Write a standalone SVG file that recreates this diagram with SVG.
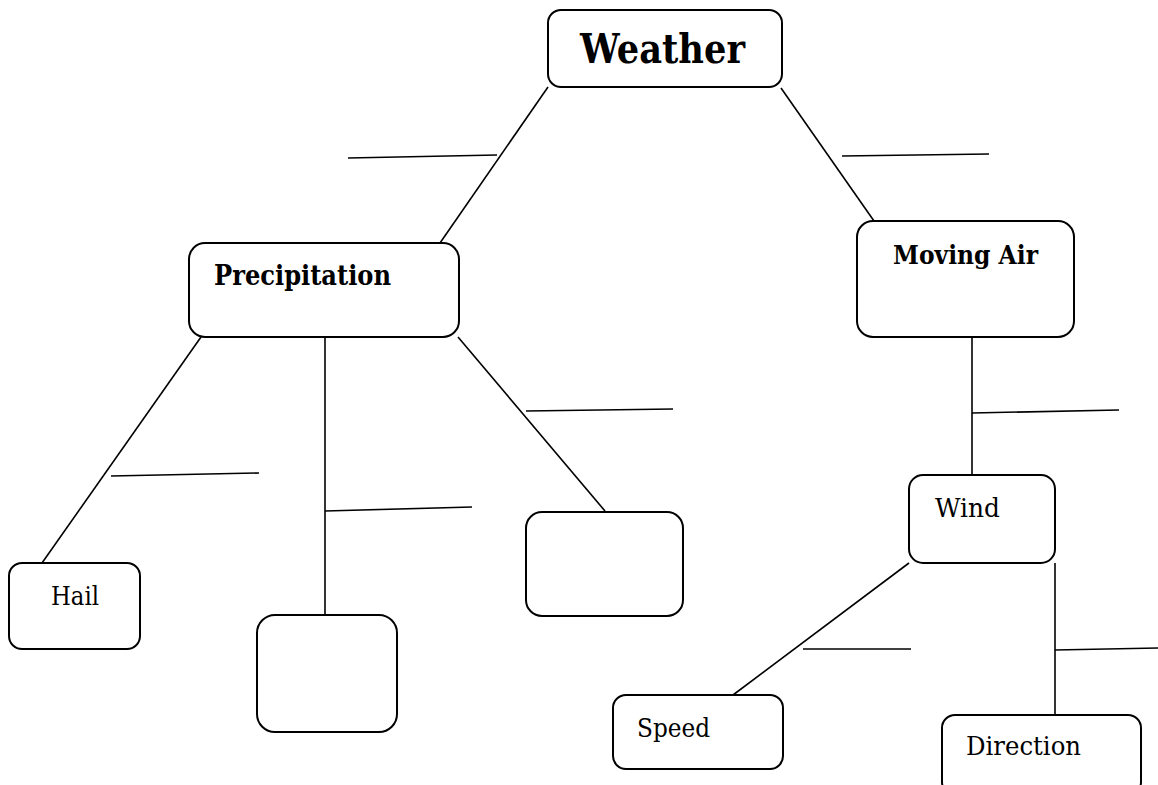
<svg xmlns="http://www.w3.org/2000/svg" width="1158" height="785" viewBox="0 0 1158 785">
<style>
.box{fill:#fff;stroke:#000;stroke-width:2}
.ln{stroke:#000;stroke-width:1.6;fill:none}
.t{font-family:"DejaVu Serif","Liberation Serif",serif;fill:#000}
.b{font-weight:bold}
</style>
<rect width="1158" height="785" fill="#fff"/>
<g id="connectors">
<line class="ln" x1="548" y1="87" x2="440" y2="243"/>
<line class="ln" x1="348" y1="158" x2="497" y2="155"/>
<line class="ln" x1="781" y1="88" x2="874" y2="221"/>
<line class="ln" x1="842" y1="156" x2="989" y2="154"/>
<line class="ln" x1="201" y1="337" x2="42" y2="563"/>
<line class="ln" x1="111" y1="476" x2="259" y2="473"/>
<line class="ln" x1="325" y1="337" x2="325" y2="615"/>
<line class="ln" x1="325" y1="511" x2="472" y2="507"/>
<line class="ln" x1="458" y1="337" x2="605" y2="511"/>
<line class="ln" x1="526" y1="411" x2="673" y2="409"/>
<line class="ln" x1="972" y1="337" x2="972" y2="475"/>
<line class="ln" x1="972" y1="413" x2="1119" y2="410"/>
<line class="ln" x1="909" y1="563" x2="733" y2="695"/>
<line class="ln" x1="803" y1="649" x2="911" y2="649"/>
<line class="ln" x1="1055" y1="563" x2="1055" y2="715"/>
<line class="ln" x1="1055" y1="650" x2="1158" y2="648"/>
</g>
<g id="weather">
<rect class="box" x="548" y="10" width="234" height="77" rx="13"/>
<text class="t b" x="580" y="63" font-size="41" textLength="165" lengthAdjust="spacingAndGlyphs">Weather</text>
</g>
<g id="precipitation">
<rect class="box" x="189" y="243" width="270" height="94" rx="16"/>
<text class="t b" x="214" y="285" font-size="27" textLength="177" lengthAdjust="spacingAndGlyphs">Precipitation</text>
</g>
<g id="moving-air">
<rect class="box" x="857" y="221" width="217" height="116" rx="16"/>
<text class="t b" x="893" y="264" font-size="26" textLength="145" lengthAdjust="spacingAndGlyphs">Moving Air</text>
</g>
<g id="hail">
<rect class="box" x="9" y="563" width="131" height="86" rx="13"/>
<text class="t" x="51" y="605" font-size="26" textLength="48" lengthAdjust="spacingAndGlyphs">Hail</text>
</g>
<g id="blank1">
<rect class="box" x="257" y="615" width="140" height="117" rx="18"/>
</g>
<g id="blank2">
<rect class="box" x="526" y="512" width="157" height="104" rx="16"/>
</g>
<g id="wind">
<rect class="box" x="909" y="475" width="146" height="88" rx="14"/>
<text class="t" x="935" y="517" font-size="26" textLength="65" lengthAdjust="spacingAndGlyphs">Wind</text>
</g>
<g id="speed">
<rect class="box" x="613" y="695" width="170" height="74" rx="13"/>
<text class="t" x="637" y="737" font-size="26" textLength="73" lengthAdjust="spacingAndGlyphs">Speed</text>
</g>
<g id="direction">
<rect class="box" x="942" y="715" width="199" height="80" rx="13"/>
<text class="t" x="966" y="755" font-size="26" textLength="115" lengthAdjust="spacingAndGlyphs">Direction</text>
</g>
</svg>
